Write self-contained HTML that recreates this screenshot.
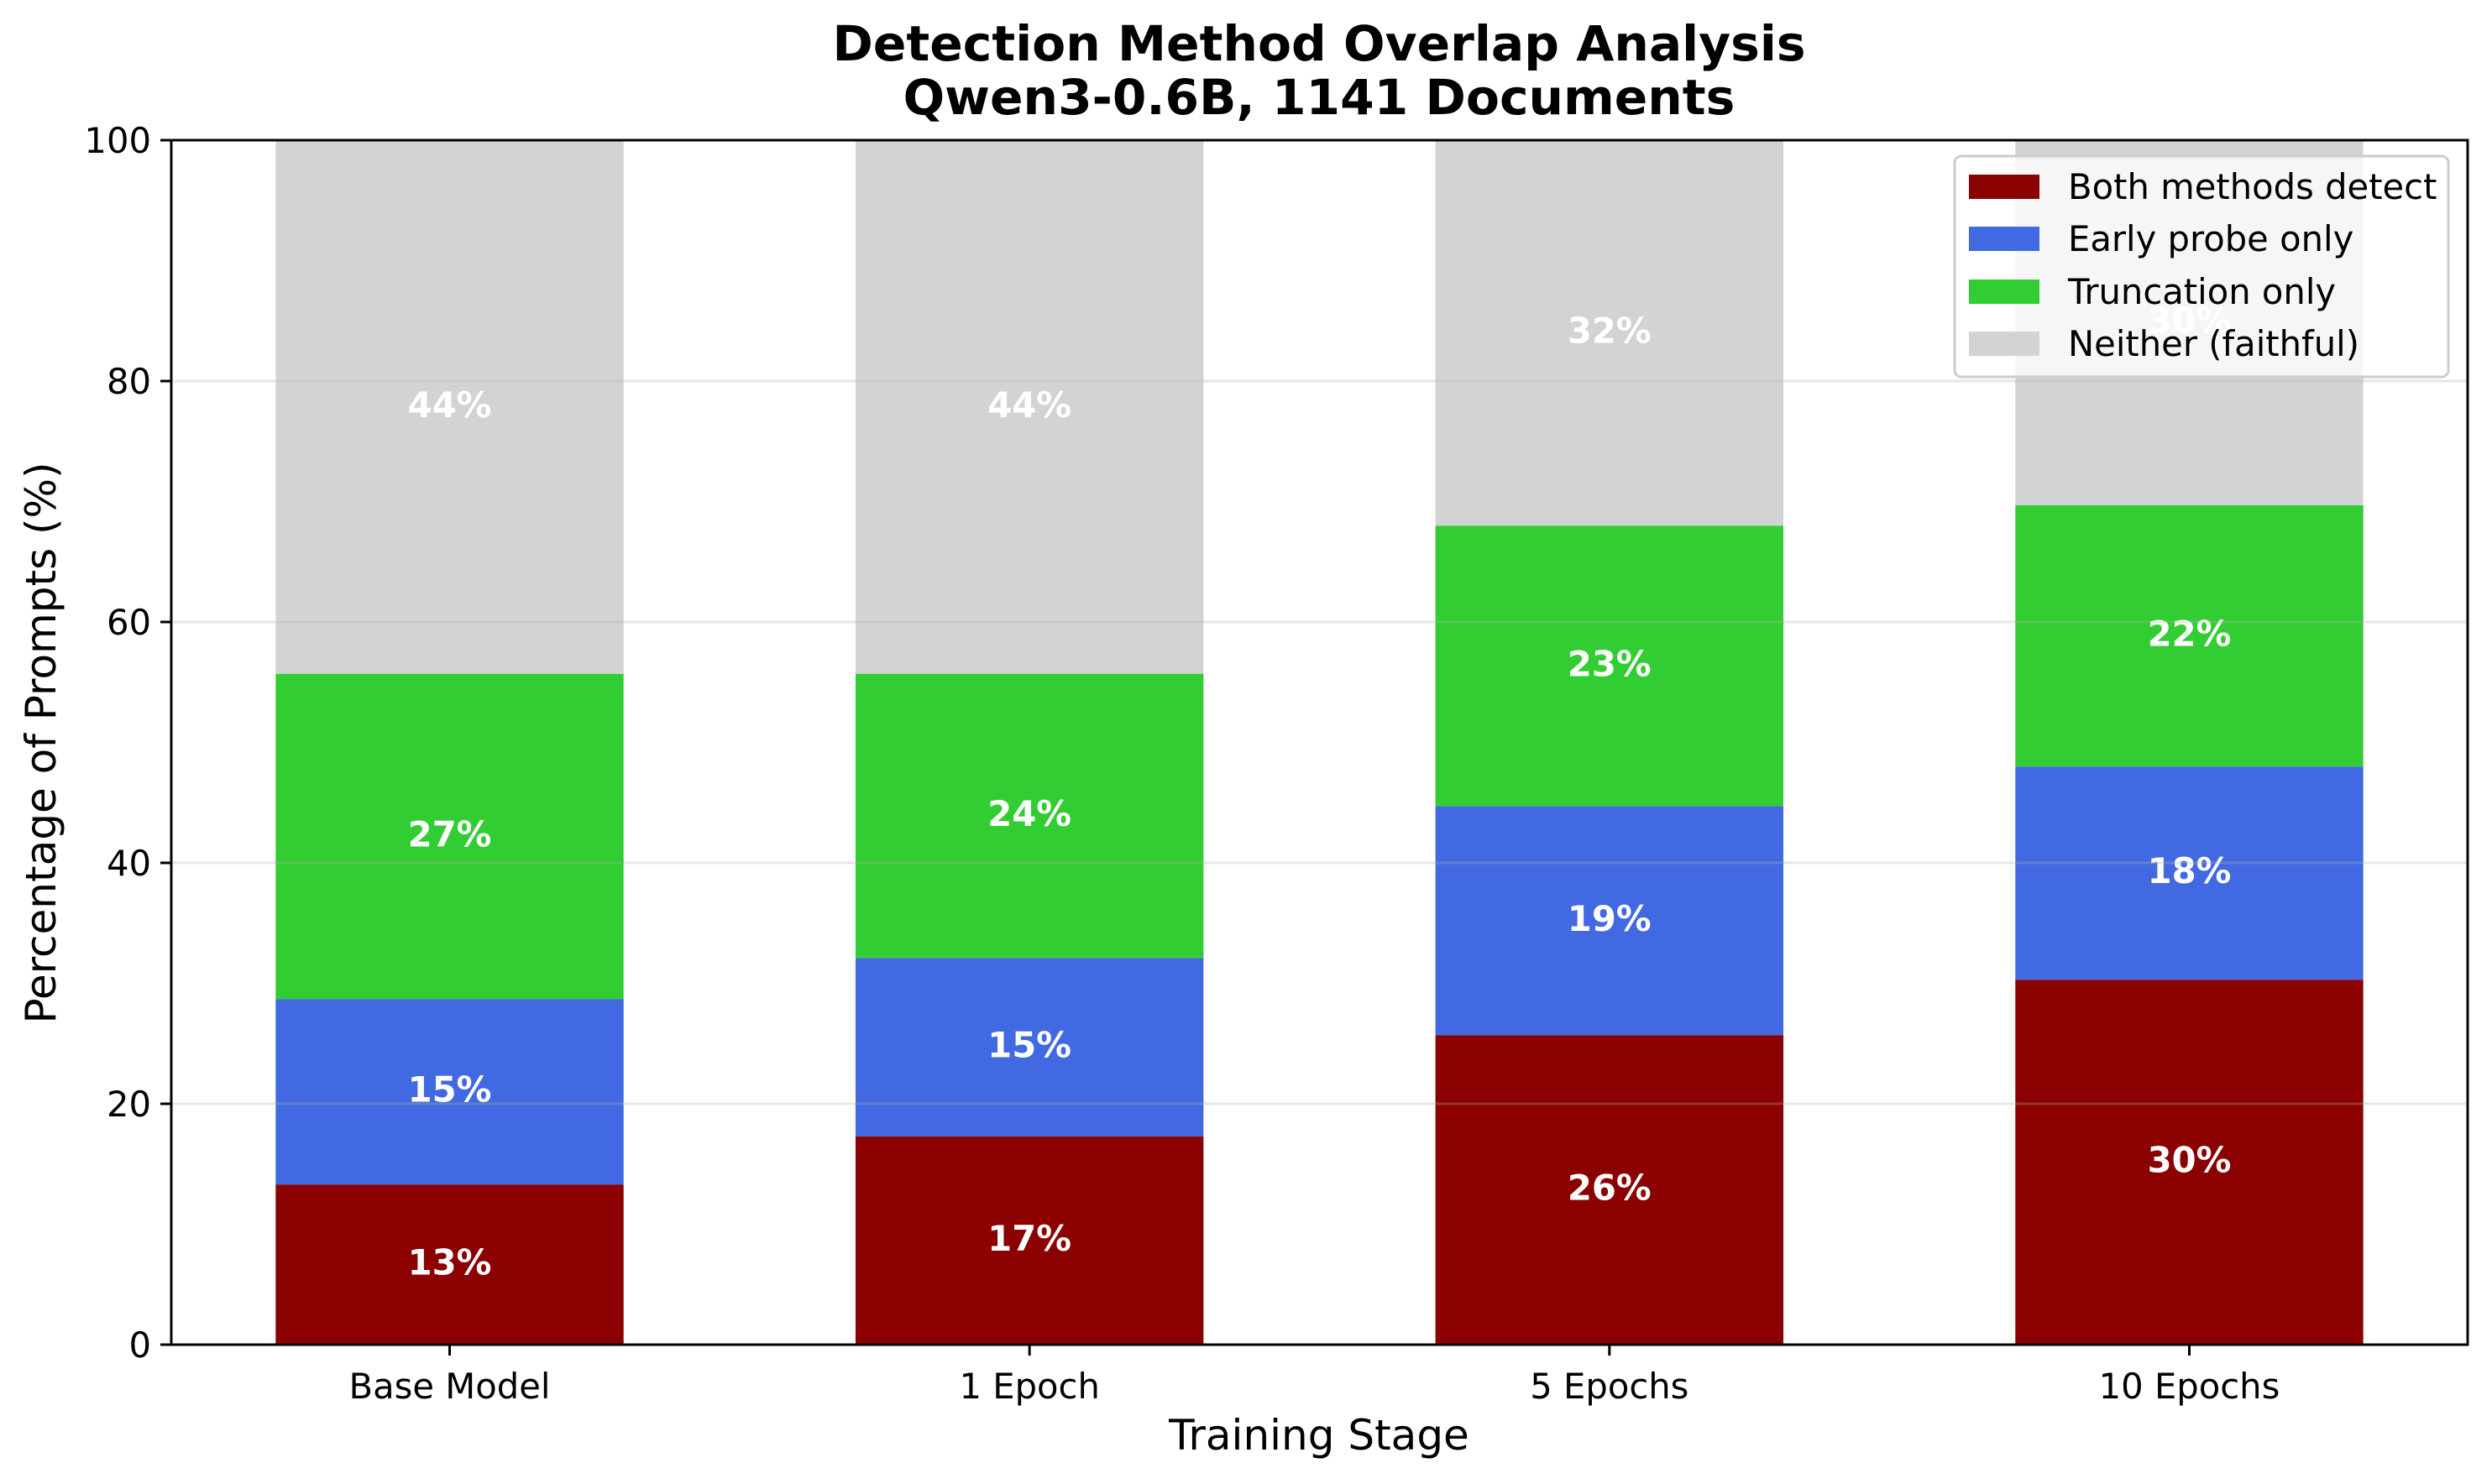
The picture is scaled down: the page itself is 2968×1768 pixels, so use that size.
<!DOCTYPE html>
<html><head><meta charset="utf-8"><style>
body{margin:0;background:#fff}
svg{display:block;font-family:"DejaVu Sans","Liberation Sans",sans-serif}
</style></head><body>
<svg id="chart" width="2968" height="1768" viewBox="0 0 2968 1768" xmlns="http://www.w3.org/2000/svg">
<rect width="2968" height="1768" fill="#fff"/>
<g id="bars"></g>
<g id="grid"></g>
<g id="axes"></g>
<text x="1571" y="72" text-anchor="middle" font-size="58.3" font-weight="bold">Detection Method Overlap Analysis</text>
<text x="1571" y="136" text-anchor="middle" font-size="58.3" font-weight="bold">Qwen3-0.6B, 1141 Documents</text>
<text x="1571" y="1727" text-anchor="middle" font-size="50">Training Stage</text>
<text transform="translate(66,885) rotate(-90)" text-anchor="middle" font-size="50">Percentage of Prompts (%)</text>
<g id="legend"></g>
</svg>
<script>
const categories = ["Base Model", "1 Epoch", "5 Epochs", "10 Epochs"];
const bothValues = [13.3, 17.3, 25.7, 30.3];
const earlyValues = [15.4, 14.8, 19.0, 17.7];
const truncValues = [27.0, 23.6, 23.3, 21.7];
const neitherValues = [44.3, 44.3, 32.0, 30.3];
const seriesNames = ["Both methods detect", "Early probe only", "Truncation only", "Neither (faithful)"];
const seriesColors = ["#8b0000", "#4169e1", "#32cd32", "#d3d3d3"];
const yTicks = [0, 20, 40, 60, 80, 100];

const NS = "http://www.w3.org/2000/svg";
const L = 204, R = 2939, T = 167, B = 1602;
const xMin = -0.48, xMax = 3.48;
function xs(v){ return L + (v - xMin) / (xMax - xMin) * (R - L); }
function ys(v){ return B - v / 100 * (B - T); }
function mk(tag, attrs, parent){ const e = document.createElementNS(NS, tag); for (const k in attrs) e.setAttribute(k, attrs[k]); parent.appendChild(e); return e; }

const series = [bothValues, earlyValues, truncValues, neitherValues];
const keys = ["both", "early", "trunc", "neither"];
const barsG = document.getElementById("bars");
const bw = 0.6 * (R - L) / (xMax - xMin);
categories.forEach((c, i) => {
  let base = 0;
  series.forEach((s, j) => {
    const v = s[i];
    const y1 = ys(base + v), y0 = ys(base);
    const r = mk("rect", {x: xs(i) - bw / 2, y: y1, width: bw, height: y0 - y1, fill: seriesColors[j]}, barsG);
    
    
    const t = mk("text", {x: xs(i), y: ys(base + v / 2) + 12, "text-anchor": "middle", "font-size": 41.7, "font-weight": "bold", fill: "#fff"}, barsG);
    t.textContent = Math.round(v) + "%";
    
    
    base += v;
  });
});

const gridG = document.getElementById("grid");
yTicks.forEach(v => {
  if (v === 0 || v === 100) return;
  const g = mk("line", {x1: L, x2: R, y1: ys(v), y2: ys(v), stroke: "#b0b0b0", "stroke-opacity": 0.3, "stroke-width": 3}, gridG);
  
  
});

const axG = document.getElementById("axes");
const frame = mk("rect", {x: L, y: T, width: R - L, height: B - T, fill: "none", stroke: "#000", "stroke-width": 3}, axG);


yTicks.forEach(v => {
  const tk = mk("line", {x1: L - 13, x2: L, y1: ys(v), y2: ys(v), stroke: "#000", "stroke-width": 3}, axG);
  
  
  const t = mk("text", {x: L - 24, y: ys(v) + 15, "text-anchor": "end", "font-size": 41.7}, axG);
  t.textContent = v;
  
  
});
categories.forEach((c, i) => {
  const tk = mk("line", {x1: xs(i), x2: xs(i), y1: B, y2: B + 13, stroke: "#000", "stroke-width": 3}, axG);
  
  
  const t = mk("text", {x: xs(i), y: B + 64, "text-anchor": "middle", "font-size": 41.7}, axG);
  t.textContent = c;
  
  
});

const lg = document.getElementById("legend");
const box = mk("rect", {x: 2328, y: 186, width: 588, height: 263, rx: 8, fill: "#fff", "fill-opacity": 0.8, stroke: "#cccccc", "stroke-width": 3}, lg);


const rowY = [222, 284, 347, 409];
seriesNames.forEach((n, j) => {
  const p = mk("rect", {x: 2345, y: rowY[j] - 14, width: 84, height: 29, fill: seriesColors[j]}, lg);
  
  
  const t = mk("text", {x: 2463, y: rowY[j] + 15, "font-size": 41.7}, lg);
  t.textContent = n;
  
  
});
</script>
</body></html>
